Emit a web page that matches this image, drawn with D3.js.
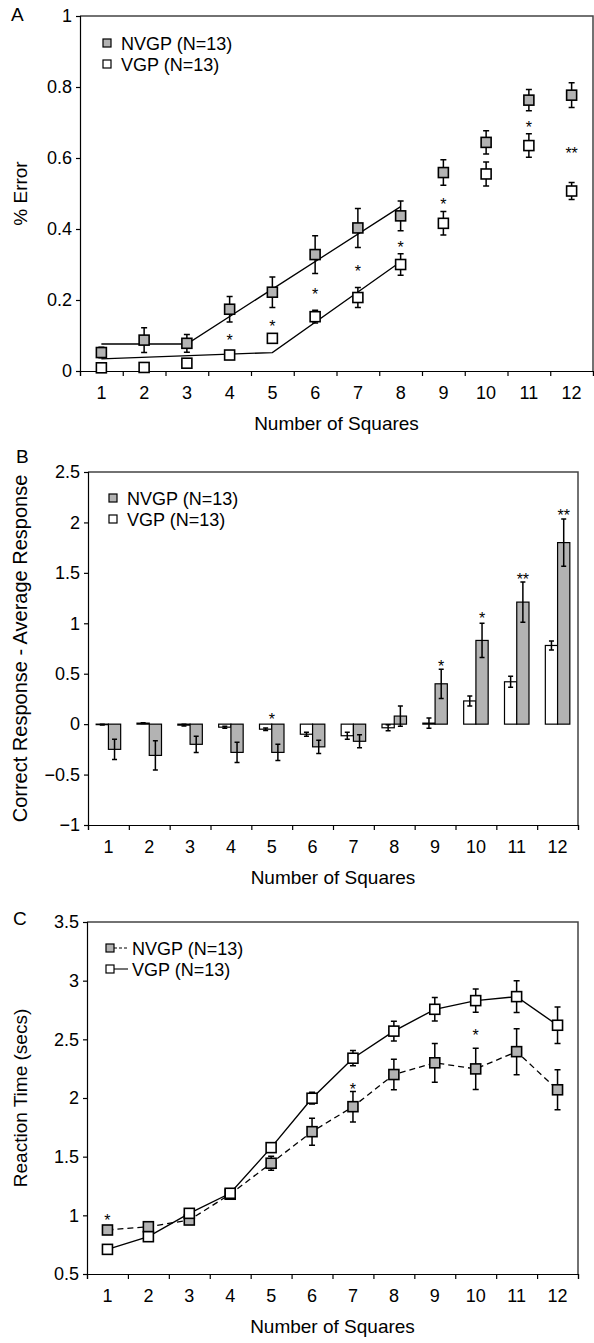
<!DOCTYPE html>
<html>
<head>
<meta charset="utf-8">
<script src="https://cdn.jsdelivr.net/npm/d3@7"></script>
<style>
  body { margin: 0; background: #fff; }
  svg { display: block; font-family: 'Liberation Sans', Arial, sans-serif; }
</style>
</head>
<body>
<svg id="chart" width="594" height="1343"></svg>
<script>
const squares = [1, 2, 3, 4, 5, 6, 7, 8, 9, 10, 11, 12];

// A: % error (mean, sem)
const errNvgp = [0.052, 0.087, 0.078, 0.174, 0.222, 0.328, 0.403, 0.437, 0.559, 0.644, 0.763, 0.777];
const errNvgpSe = [0.015, 0.035, 0.025, 0.036, 0.043, 0.053, 0.055, 0.042, 0.036, 0.033, 0.03, 0.035];
const errVgp = [0.009, 0.01, 0.022, 0.045, 0.092, 0.153, 0.207, 0.3, 0.416, 0.555, 0.635, 0.507];
const errVgpSe = [0.005, 0.005, 0.008, 0.006, 0.012, 0.018, 0.028, 0.03, 0.033, 0.034, 0.033, 0.024];
const errFitNvgp = [[1, 0.076], [3, 0.076], [8, 0.463]];
const errFitVgp = [[1, 0.034], [5, 0.052], [8, 0.308]];
const errStars = [[4, '*', 0.097], [5, '*', 0.136], [6, '*', 0.225], [7, '*', 0.289], [8, '*', 0.357], [9, '*', 0.48], [11, '*', 0.696], [12, '**', 0.623]];

// B: correct response - average response
const respVgp = [-0.005, 0.01, -0.01, -0.03, -0.05, -0.1, -0.115, -0.036, 0.01, 0.23, 0.42, 0.78];
const respVgpSe = [0.004, 0.004, 0.008, 0.01, 0.012, 0.02, 0.035, 0.03, 0.05, 0.05, 0.055, 0.045];
const respNvgp = [-0.25, -0.31, -0.2, -0.28, -0.28, -0.225, -0.17, 0.08, 0.4, 0.83, 1.21, 1.8];
const respNvgpSe = [0.1, 0.145, 0.08, 0.1, 0.08, 0.065, 0.065, 0.1, 0.145, 0.17, 0.2, 0.235];
const respStars = [[5, '*', 0.08], [9, '*', 0.61], [10, '*', 1.08], [11, '**', 1.47], [12, '**', 2.1]];

// C: reaction time (secs)
const rtVgp = [0.71, 0.818, 1.017, 1.188, 1.577, 1.998, 2.339, 2.57, 2.756, 2.83, 2.864, 2.62];
const rtVgpSe = [0.035, 0.02, 0.03, 0.03, 0.04, 0.05, 0.065, 0.085, 0.1, 0.1, 0.135, 0.155];
const rtNvgp = [0.875, 0.903, 0.96, 1.18, 1.444, 1.713, 1.926, 2.2, 2.3, 2.248, 2.395, 2.07];
const rtNvgpSe = [0.02, 0.03, 0.03, 0.03, 0.06, 0.115, 0.13, 0.13, 0.165, 0.176, 0.196, 0.17];
const rtStars = [[1, '*', 0.99], [7, '*', 2.1], [10, '*', 2.565]];

const legendLabels = ['NVGP (N=13)', 'VGP (N=13)'];

const GRAY = '#b3b3b3';
const TICK_FONT = 18;
const TITLE_FONT = 19;

const svg = d3.select('#chart');
svg.append('rect').attr('width', 594).attr('height', 1343).attr('fill', '#fff');

const frame = (p) => {
  const x = d3.scaleBand().domain(squares).range([p.left, p.right]);
  const edge = d3.scaleLinear().domain([0.5, 12.5]).range([p.left, p.right]);
  const y = d3.scaleLinear().domain(p.domain).range([p.bottom, p.top]);
  const cx = d => x(d) + x.bandwidth() / 2;

  svg.append('path')
    .attr('d', `M${p.left},${p.top}H${p.right}V${p.bottom}`)
    .attr('fill', 'none')
    .attr('stroke', '#444')
    .attr('stroke-width', 1.5);

  const yAxis = svg.append('g')
    .attr('transform', `translate(${p.left},0)`)
    .call(d3.axisLeft(y).tickValues(p.ticks).tickSize(4).tickPadding(4).tickFormat(p.fmt));
  const xTicks = svg.append('g')
    .attr('transform', `translate(0,${p.bottom})`)
    .call(d3.axisBottom(edge).tickValues(d3.range(0.5, 13, 1)).tickSize(5).tickFormat(''));
  const xLabels = svg.append('g')
    .attr('transform', `translate(0,${p.bottom})`)
    .call(d3.axisBottom(x).tickSize(0).tickPadding(15));
  xLabels.select('.domain').remove();
  [yAxis, xTicks, xLabels].forEach(a => a
    .attr('font-family', null)
    .attr('font-size', TICK_FONT)
    .selectAll('line, path').attr('stroke', '#000').attr('stroke-width', 1.2));

  svg.append('text')
    .attr('x', (p.left + p.right) / 2)
    .attr('y', p.bottom + 59)
    .attr('text-anchor', 'middle')
    .attr('font-size', TITLE_FONT)
    .text('Number of Squares');

  svg.append('text')
    .attr('transform', `translate(27,${(p.top + p.bottom) / 2}) rotate(-90)`)
    .attr('text-anchor', 'middle')
    .attr('font-size', p.titleSize || TITLE_FONT)
    .text(p.title);

  svg.append('text')
    .attr('x', p.letterX)
    .attr('y', p.letterY)
    .attr('font-size', TITLE_FONT)
    .text(p.letter);

  return { x, y, cx };
};

const errorBars = (g, cx, y, means, ses, w = 6) => {
  const eb = g.append('g').attr('stroke', '#000').attr('stroke-width', 1.5).attr('fill', 'none');
  eb.selectAll('path')
    .data(squares)
    .join('path')
    .attr('d', (d, i) => {
      const x0 = cx(d);
      const hi = y(means[i] + ses[i]);
      const lo = y(means[i] - ses[i]);
      return `M${x0},${hi}V${lo}M${x0 - w / 2},${hi}h${w}M${x0 - w / 2},${lo}h${w}`;
    });
};

const markers = (g, cx, y, means, fill, s = 10) => {
  g.append('g')
    .selectAll('rect')
    .data(squares)
    .join('rect')
    .attr('x', d => cx(d) - s / 2)
    .attr('y', (d, i) => y(means[i]) - s / 2)
    .attr('width', s)
    .attr('height', s)
    .attr('fill', fill)
    .attr('stroke', '#000')
    .attr('stroke-width', 1.6);
};

const stars = (g, sx, y, list) => {
  g.append('g')
    .selectAll('text')
    .data(list)
    .join('text')
    .attr('x', d => sx(d[0]))
    .attr('y', d => y(d[2]) + 9)
    .attr('text-anchor', 'middle')
    .attr('font-size', 16)
    .attr('fill', '#000')
    .text(d => d[1]);
};

const legend = (x0, y0, withLines) => {
  const g = svg.append('g');
  legendLabels.forEach((label, i) => {
    const yy = y0 + i * 21;
    g.append('rect')
      .attr('x', x0 - 4).attr('y', yy - 4)
      .attr('width', 8).attr('height', 8)
      .attr('fill', i === 0 ? GRAY : '#fff')
      .attr('stroke', '#000')
      .attr('stroke-width', 1.2);
    let tx = x0 + 14;
    if (withLines) {
      g.append('line')
        .attr('x1', x0 + 4).attr('x2', x0 + 18)
        .attr('y1', yy).attr('y2', yy)
        .attr('stroke', '#000')
        .attr('stroke-width', 1.1)
        .attr('stroke-dasharray', i === 0 ? '3,2' : null);
      tx = x0 + 22;
    }
    g.append('text')
      .attr('x', tx)
      .attr('y', yy + 6.5)
      .attr('font-size', TICK_FONT)
      .text(label);
  });
};

// Panel A
{
  const { y, cx } = frame({
    left: 80, right: 593, top: 16, bottom: 371,
    domain: [0, 1], ticks: [0, 0.2, 0.4, 0.6, 0.8, 1], fmt: d3.format(''),
    title: '% Error', letter: 'A', letterX: 11, letterY: 21,
  });
  const g = svg.append('g');
  const fit = d3.line().x(d => cx(d[0])).y(d => y(d[1]));
  [errFitNvgp, errFitVgp].forEach(pts => g.append('path')
    .attr('d', fit(pts))
    .attr('fill', 'none')
    .attr('stroke', '#000')
    .attr('stroke-width', 1.3));
  errorBars(g, cx, y, errNvgp, errNvgpSe);
  errorBars(g, cx, y, errVgp, errVgpSe);
  markers(g, cx, y, errNvgp, GRAY);
  markers(g, cx, y, errVgp, '#fff');
  stars(g, cx, y, errStars);
  legend(107, 43, false);
}

// Panel B
{
  const { x, y, cx } = frame({
    left: 88, right: 578, top: 472, bottom: 825,
    domain: [-1, 2.5], ticks: [-1, -0.5, 0, 0.5, 1, 1.5, 2, 2.5], fmt: d3.format(''),
    title: 'Correct Response - Average Response', titleSize: 20,
    letter: 'B', letterX: 16, letterY: 463,
  });
  const bw = x.bandwidth() * 0.3;
  const vx = d => x(d) + x.bandwidth() * 0.2;
  const nx = d => x(d) + x.bandwidth() * 0.5;
  const g = svg.append('g');
  [[respVgp, vx, '#fff'], [respNvgp, nx, GRAY]].forEach(([vals, bx, fill]) => {
    g.append('g')
      .selectAll('rect')
      .data(squares)
      .join('rect')
      .attr('x', d => bx(d))
      .attr('y', (d, i) => y(Math.max(0, vals[i])))
      .attr('width', bw)
      .attr('height', (d, i) => Math.abs(y(vals[i]) - y(0)))
      .attr('fill', fill)
      .attr('stroke', '#000')
      .attr('stroke-width', 1.2);
  });
  errorBars(g, d => vx(d) + bw / 2, y, respVgp, respVgpSe, 5);
  errorBars(g, d => nx(d) + bw / 2, y, respNvgp, respNvgpSe, 5);
  stars(g, d => (d === 5 ? cx(d) : nx(d) + bw / 2), y, respStars);
  legend(113, 498, false);
}

// Panel C
{
  const { y, cx } = frame({
    left: 87, right: 578, top: 922, bottom: 1274,
    domain: [0.5, 3.5], ticks: [0.5, 1, 1.5, 2, 2.5, 3, 3.5], fmt: d3.format(''),
    title: 'Reaction Time (secs)', letter: 'C', letterX: 13, letterY: 925,
  });
  const g = svg.append('g');
  const line = d3.line().x(d => cx(d[0])).y(d => y(d[1]));
  g.append('path')
    .attr('d', line(squares.map((d, i) => [d, rtNvgp[i]])))
    .attr('fill', 'none')
    .attr('stroke', '#000')
    .attr('stroke-width', 1.3)
    .attr('stroke-dasharray', '6,4');
  g.append('path')
    .attr('d', line(squares.map((d, i) => [d, rtVgp[i]])))
    .attr('fill', 'none')
    .attr('stroke', '#000')
    .attr('stroke-width', 1.4);
  errorBars(g, cx, y, rtNvgp, rtNvgpSe);
  errorBars(g, cx, y, rtVgp, rtVgpSe);
  markers(g, cx, y, rtNvgp, GRAY);
  markers(g, cx, y, rtVgp, '#fff');
  stars(g, cx, y, rtStars);
  legend(110, 948, true);
}
</script>
</body>
</html>
